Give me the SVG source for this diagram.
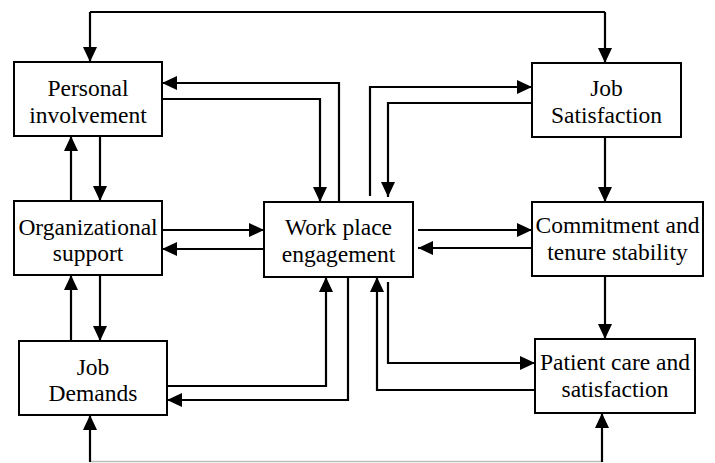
<svg xmlns="http://www.w3.org/2000/svg" width="715" height="463" viewBox="0 0 715 463">
<style>
.box{fill:#fff;stroke:#000;stroke-width:2}
.t{font-family:Liberation Serif,serif;font-size:23.5px;text-anchor:middle;fill:#000}
.c{fill:none;stroke:#000;stroke-width:2.2}
.a{marker-end:url(#ah)}
.g{fill:none;stroke:#bdbdbd;stroke-width:1.5}
</style>
<defs>
<marker id="ah" markerUnits="userSpaceOnUse" markerWidth="15" markerHeight="14" refX="15" refY="7" orient="auto">
<path d="M0,0 L15,7 L0,14 z" fill="#000"/>
</marker>
</defs>
<rect width="715" height="463" fill="#fff"/>
<g id="connectors">
<path class="c" d="M90,12 H605"/>
<path class="c a" d="M90,12 V62"/>
<path class="c a" d="M605,12 V63"/>
<path class="c a" d="M100,136 V201"/>
<path class="c a" d="M71,201 V136"/>
<path class="c a" d="M100,275 V341"/>
<path class="c a" d="M71,341 V275"/>
<path class="c a" d="M339,202 V83 H162"/>
<path class="c a" d="M162,99 H320 V202"/>
<path class="c a" d="M162,230 H264"/>
<path class="c a" d="M264,249 H162"/>
<path class="c a" d="M167,386 H326 V277"/>
<path class="c a" d="M348,277 V400 H167"/>
<path class="c a" d="M370,196 V87 H532"/>
<path class="c a" d="M532,103 H388 V197"/>
<path class="c a" d="M605,137 V202"/>
<path class="c a" d="M418,230 H532"/>
<path class="c a" d="M532,248 H418"/>
<path class="c a" d="M605,276 V339"/>
<path class="c a" d="M388,282 V363 H535"/>
<path class="c a" d="M535,390 H377 V277"/>
<path class="g" d="M90,461.5 H602"/>
<path class="c a" d="M90,462 V415"/>
<path class="c a" d="M602,462 V413"/>
</g>
<g id="personal">
<rect class="box" x="14" y="62" width="148" height="74"/>
<text class="t" x="88" y="96">Personal</text>
<text class="t" x="88" y="123">involvement</text>
</g>
<g id="organizational">
<rect class="box" x="14" y="201" width="148" height="74"/>
<text class="t" x="88" y="235">Organizational</text>
<text class="t" x="88" y="261">support</text>
</g>
<g id="jobdemands">
<rect class="box" x="19" y="341" width="148" height="74"/>
<text class="t" x="93" y="375">Job</text>
<text class="t" x="93" y="401">Demands</text>
</g>
<g id="workplace">
<rect class="box" x="264" y="202" width="149" height="75"/>
<text class="t" x="338.5" y="235">Work place</text>
<text class="t" x="338.5" y="262">engagement</text>
</g>
<g id="jobsatisfaction">
<rect class="box" x="532" y="63" width="149" height="74"/>
<text class="t" x="606.5" y="96">Job</text>
<text class="t" x="606.5" y="123">Satisfaction</text>
</g>
<g id="commitment">
<rect class="box" x="532" y="202" width="171" height="74"/>
<text class="t" x="617.5" y="233">Commitment and</text>
<text class="t" x="617.5" y="260">tenure stability</text>
</g>
<g id="patient">
<rect class="box" x="535" y="339" width="160" height="74"/>
<text class="t" x="615" y="370">Patient care and</text>
<text class="t" x="615" y="397">satisfaction</text>
</g>
</svg>
